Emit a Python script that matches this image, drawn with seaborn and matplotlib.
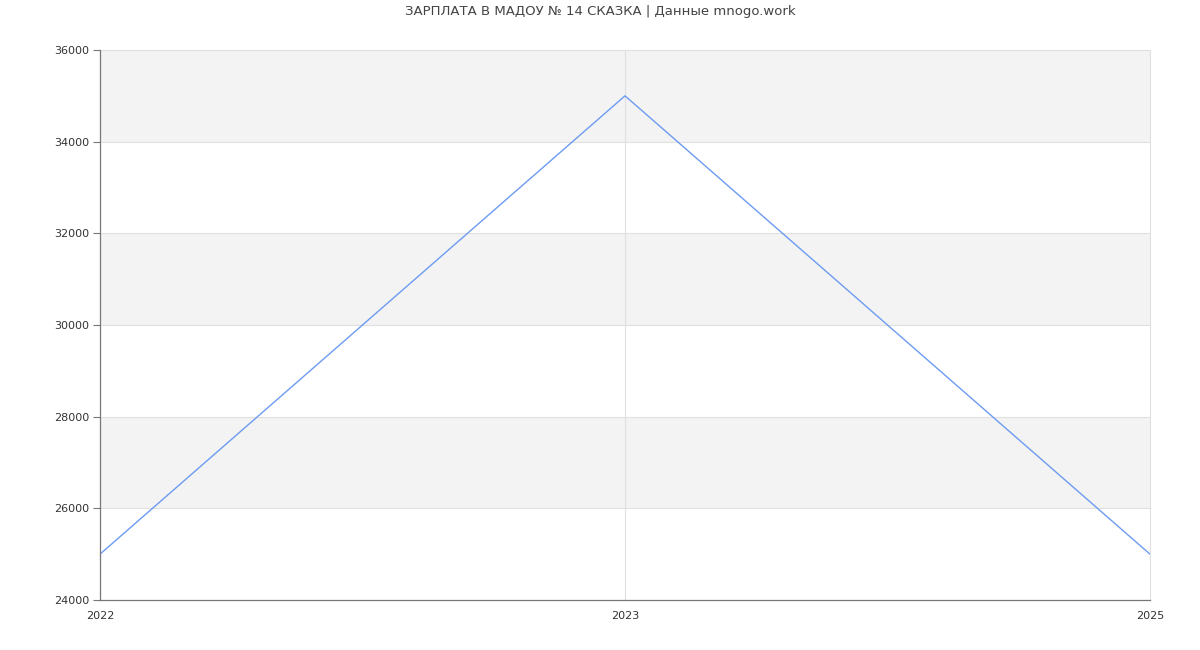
import pandas as pd
import matplotlib.pyplot as plt
import seaborn as sns
import numpy as np

years = ["2022", "2023", "2025"]
salary = [25000, 35000, 25000]

title = "ЗАРПЛАТА В МАДОУ № 14 СКАЗКА | Данные mnogo.work"

sns.set_style("white")
plt.rcParams["font.family"] = ["DejaVu Sans"]

df = pd.DataFrame({"pos": np.arange(len(years)), "salary": salary})

fig = plt.figure(figsize=(12, 6.5), dpi=100)
ax = fig.add_axes([100 / 1200, 50 / 650, 1050 / 1200, 550 / 650])

# alternating horizontal bands
yticks = np.arange(24000, 36001, 2000)
for i, lo in enumerate(yticks[:-1]):
    if i % 2 == 1:
        ax.axhspan(lo, lo + 2000, color="#f3f3f3", zorder=0, lw=0)
for y in yticks[1:]:
    ax.axhline(y, color="#e0e0e0", lw=0.8, zorder=1, clip_on=False)
for x in df["pos"][1:]:
    ax.axvline(x, color="#e0e0e0", lw=0.8, zorder=1, clip_on=False)

sns.lineplot(data=df, x="pos", y="salary", ax=ax, color="#6d9bf1", lw=1.0, zorder=3)

ax.set_xlim(0, len(years) - 1)
ax.set_ylim(24000, 36000)
ax.set_xticks(df["pos"])
ax.set_xticklabels(years)
ax.set_yticks(yticks)
ax.set_yticklabels([str(v) for v in yticks])
ax.set_xlabel("")
ax.set_ylabel("")

for s in ["top", "right"]:
    ax.spines[s].set_visible(False)
for s in ["left", "bottom"]:
    ax.spines[s].set_color("#777777")
    ax.spines[s].set_linewidth(0.9)
    ax.spines[s].set_zorder(4)

ax.tick_params(axis="y", left=True, length=5, width=0.8, color="#777777", labelsize=8, labelcolor="#333333", pad=3)
ax.tick_params(axis="x", bottom=False, length=0, labelsize=8, labelcolor="#333333", pad=8)

fig.suptitle(title, y=0.992, fontsize=9.5, color="#444444")

fig.savefig("out.png", dpi=100)
plt.close(fig)
